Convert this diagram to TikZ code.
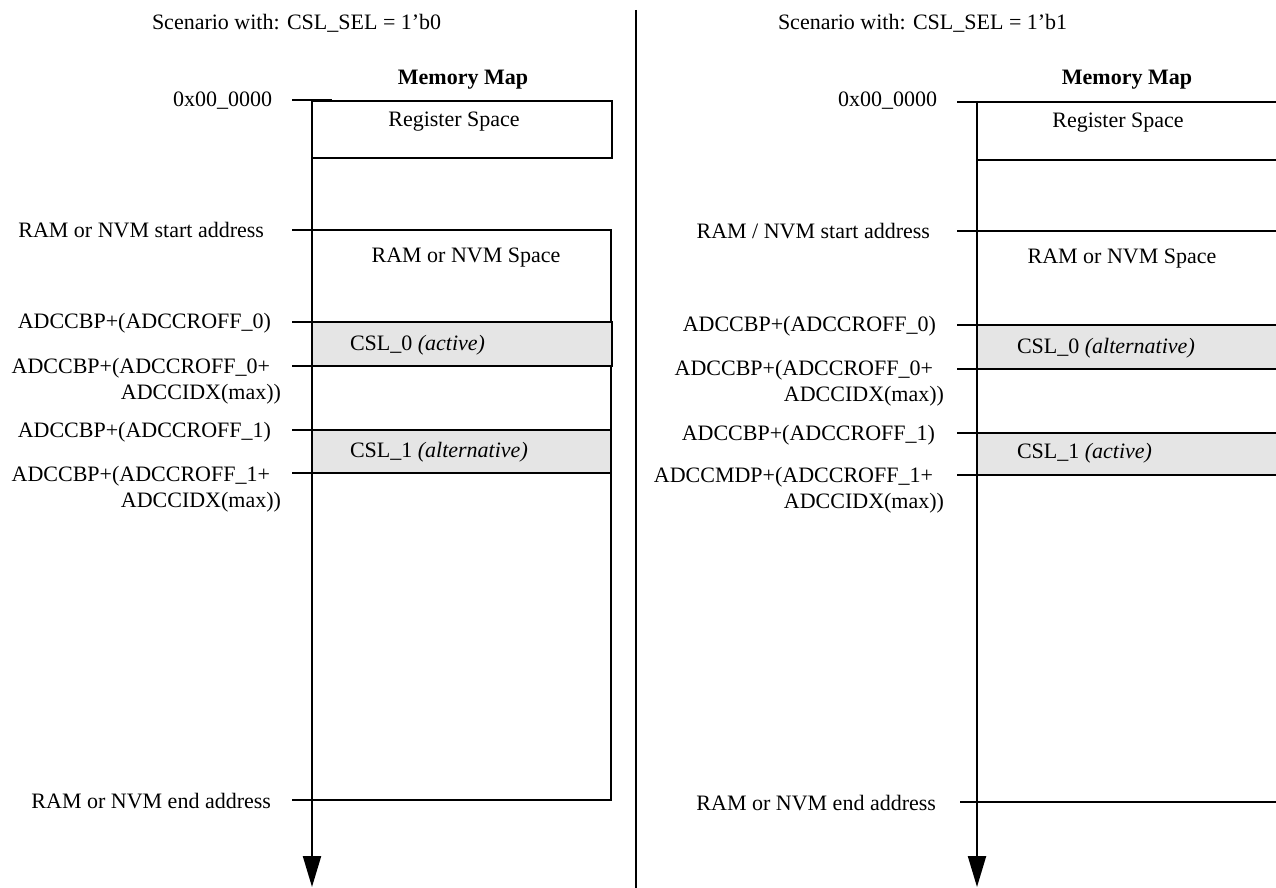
\documentclass[tikz,border=0pt]{standalone}
\usepackage{fontspec}
\setmainfont{Liberation Serif}
\usetikzlibrary{arrows.meta}
\definecolor{cslgray}{RGB}{229,229,229}
\begin{document}
\begin{tikzpicture}[x=1pt,y=-1pt,
  lbl/.style={inner sep=0pt, outer sep=0pt, font=\fontsize{22}{26}\selectfont},
  ln/.style={line width=2pt},
  axisline/.style={line width=2.2pt, -{Triangle[width=18pt,length=31pt]}},
  box/.style={draw, line width=2pt, inner sep=0pt, outer sep=0pt, anchor=north west},
  cslbox/.style={box, fill=cslgray},
  band/.style={fill=cslgray, draw=none}]
\useasboundingbox (0,0) rectangle (1276,888);

% ---------- divider ----------
\coordinate (divtop) at (636,10);
\coordinate (divbot) at (636,888);
\draw[ln] (divtop) -- (divbot);

% ================= LEFT SCENARIO =================
\node[lbl, anchor=base west] (Ltitle) at (152,30) {Scenario with: CSL\_SEL = 1'b0};
\node[lbl, anchor=base] (Lmm) at (463,85) {\textbf{Memory Map}};

\node[box, minimum width=300pt, minimum height=57pt] (Lreg) at (312,101) {};
\node[lbl, anchor=base] (LregT) at (454,127) {Register Space};

\node[box, minimum width=299pt, minimum height=570pt] (Lram) at (312,230) {};
\node[lbl, anchor=base] (LramT) at (466,262) {RAM or NVM Space};

\node[cslbox, minimum width=300pt, minimum height=44pt] (Lcsl0) at (312,322) {};
\node[lbl, anchor=base west] (Lcsl0T) at (350,350) {CSL\_0 \textit{(active)}};

\node[cslbox, minimum width=299pt, minimum height=43pt] (Lcsl1) at (312,430) {};
\node[lbl, anchor=base west] (Lcsl1T) at (350,457) {CSL\_1 \textit{(alternative)}};

% ticks
\coordinate (Lt0) at (292,100);
\coordinate (Lt1) at (292,230);
\coordinate (Lt2) at (292,322);
\coordinate (Lt3) at (292,366);
\coordinate (Lt4) at (292,430);
\coordinate (Lt5) at (292,473);
\coordinate (Lt6) at (292,800);
\draw[ln] (Lt0) -- ++(40,0);
\foreach \t in {Lt1,Lt2,Lt3,Lt4,Lt5,Lt6} \draw[ln] (\t) -- ++(30,0);

% axis
\coordinate (Ltop) at (312,100);
\coordinate (Lbot) at (312,887);
\draw[axisline] (Ltop) -- (Lbot);

% address labels
\node[lbl, anchor=base east] (La0) at (272,107) {0x00\_0000};
\node[lbl, anchor=base east] (La1) at (264,237) {RAM or NVM start address};
\node[lbl, anchor=base east] (La2) at (271,328) {ADCCBP+(ADCCROFF\_0)};
\node[lbl, anchor=base east] (La3) at (270,373) {ADCCBP+(ADCCROFF\_0+};
\node[lbl, anchor=base east] (La3b) at (281,399) {ADCCIDX(max))};
\node[lbl, anchor=base east] (La4) at (271,437) {ADCCBP+(ADCCROFF\_1)};
\node[lbl, anchor=base east] (La5) at (270,481) {ADCCBP+(ADCCROFF\_1+};
\node[lbl, anchor=base east] (La5b) at (281,507) {ADCCIDX(max))};
\node[lbl, anchor=base east] (La6) at (271,808) {RAM or NVM end address};

% ================= RIGHT SCENARIO =================
\node[lbl, anchor=base west] (Rtitle) at (778,30) {Scenario with: CSL\_SEL = 1'b1};
\node[lbl, anchor=base] (Rmm) at (1127,85) {\textbf{Memory Map}};

% grey bands
\coordinate (Rc0a) at (977,325);
\coordinate (Rc0b) at (1276,369);
\coordinate (Rc1a) at (977,433);
\coordinate (Rc1b) at (1276,475);
\fill[band] (Rc0a) rectangle (Rc0b);
\fill[band] (Rc1a) rectangle (Rc1b);

% horizontal lines (tick + open box edges)
\coordinate (Rt0) at (957,102);  \coordinate (Re0) at (1276,102);
\coordinate (Rb0) at (977,160);  \coordinate (Rbe0) at (1276,160);
\coordinate (Rt1) at (957,231);  \coordinate (Re1) at (1276,231);
\coordinate (Rt2) at (957,325);  \coordinate (Re2) at (1276,325);
\coordinate (Rt3) at (957,369);  \coordinate (Re3) at (1276,369);
\coordinate (Rt4) at (957,433);  \coordinate (Re4) at (1276,433);
\coordinate (Rt5) at (957,475);  \coordinate (Re5) at (1276,475);
\coordinate (Rt6) at (960,802);  \coordinate (Re6) at (1276,802);
\draw[ln] (Rt0) -- (Re0);
\draw[ln] (Rb0) -- (Rbe0);
\draw[ln] (Rt1) -- (Re1);
\draw[ln] (Rt2) -- (Re2);
\draw[ln] (Rt3) -- (Re3);
\draw[ln] (Rt4) -- (Re4);
\draw[ln] (Rt5) -- (Re5);
\draw[ln] (Rt6) -- (Re6);

% axis
\coordinate (Rtop) at (977,101);
\coordinate (Rbot) at (977,887);
\draw[axisline] (Rtop) -- (Rbot);

% inner texts
\node[lbl, anchor=base] (RregT) at (1118,128) {Register Space};
\node[lbl, anchor=base] (RramT) at (1122,263) {RAM or NVM Space};
\node[lbl, anchor=base west] (Rcsl0T) at (1017,353) {CSL\_0 \textit{(alternative)}};
\node[lbl, anchor=base west] (Rcsl1T) at (1017,458) {CSL\_1 \textit{(active)}};

% address labels
\node[lbl, anchor=base east] (Ra0) at (937,107) {0x00\_0000};
\node[lbl, anchor=base east] (Ra1) at (930,238) {RAM / NVM start address};
\node[lbl, anchor=base east] (Ra2) at (936,331) {ADCCBP+(ADCCROFF\_0)};
\node[lbl, anchor=base east] (Ra3) at (933,375) {ADCCBP+(ADCCROFF\_0+};
\node[lbl, anchor=base east] (Ra3b) at (944,401) {ADCCIDX(max))};
\node[lbl, anchor=base east] (Ra4) at (935,440) {ADCCBP+(ADCCROFF\_1)};
\node[lbl, anchor=base east] (Ra5) at (933,482) {ADCCMDP+(ADCCROFF\_1+};
\node[lbl, anchor=base east] (Ra5b) at (944,508) {ADCCIDX(max))};
\node[lbl, anchor=base east] (Ra6) at (936,810) {RAM or NVM end address};
\end{tikzpicture}
\end{document}
